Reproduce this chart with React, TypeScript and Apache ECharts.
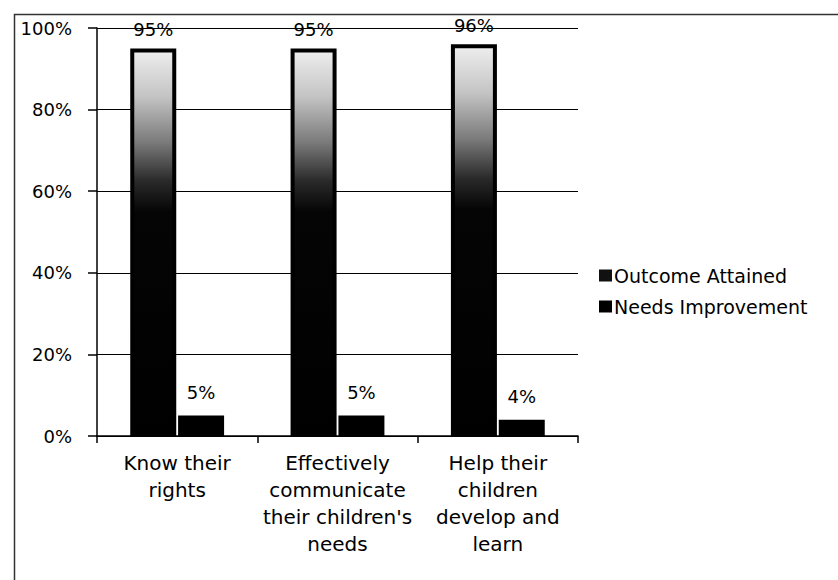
import React, { useEffect, useRef } from "react";
import * as echarts from "echarts";

const categories = [
  "Know their\nrights",
  "Effectively\ncommunicate\ntheir children's\nneeds",
  "Help their\nchildren\ndevelop and\nlearn",
];
const outcomeAttained = [95, 95, 96];
const needsImprovement = [5, 5, 4];
const yTicks = [0, 20, 40, 60, 80, 100];

const FONT = "DejaVu Sans";

export default function App() {
  const ref = useRef<HTMLDivElement>(null);
  useEffect(() => {
    if (!ref.current) return;
    const chart = echarts.init(ref.current, null, { renderer: "svg" });
    const attainedFill = new echarts.graphic.LinearGradient(0, 0, 0, 1, [
      { offset: 0, color: "#eeeeee" },
      { offset: 0.12, color: "#c4c4c4" },
      { offset: 0.24, color: "#7a7a7a" },
      { offset: 0.34, color: "#2a2a2a" },
      { offset: 0.42, color: "#050505" },
      { offset: 1, color: "#000000" },
    ]);
    chart.setOption({
      animation: false,
      backgroundColor: "#ffffff",
      textStyle: { fontFamily: FONT, color: "#000" },
      grid: { left: 97, right: 260, top: 28, bottom: 144, containLabel: false },
      legend: {
        orient: "vertical",
        left: 594,
        top: 261,
        itemWidth: 13,
        itemHeight: 12,
        itemGap: 12,
        icon: "rect",
        textStyle: { fontFamily: FONT, fontSize: 19, color: "#000", padding: [0, 0, 0, -3] },
        data: [
          { name: "Outcome Attained", itemStyle: { color: "#111", borderWidth: 0 } },
          { name: "Needs Improvement", itemStyle: { color: "#000", borderWidth: 0 } },
        ],
      },
      xAxis: {
        type: "category",
        data: categories,
        axisLine: { show: true, lineStyle: { color: "#000", width: 1.5 } },
        axisTick: { show: true, length: 7, lineStyle: { color: "#000", width: 1.5 } },
        axisLabel: {
          interval: 0,
          margin: 13,
          fontFamily: FONT,
          fontSize: 20,
          lineHeight: 27,
          color: "#000",
        },
      },
      yAxis: {
        type: "value",
        min: 0,
        max: 100,
        interval: 20,
        axisLine: { show: true, lineStyle: { color: "#000", width: 1.5 } },
        axisTick: { show: true, length: 9, lineStyle: { color: "#000", width: 1.5 } },
        splitLine: { show: true, lineStyle: { color: "#000", width: 1.2 } },
        axisLabel: {
          margin: 25,
          fontFamily: FONT,
          fontSize: 18,
          color: "#000",
          formatter: (v: number) => (yTicks.includes(v) ? v + "%" : ""),
        },
      },
      series: [
        {
          name: "Outcome Attained",
          type: "bar",
          data: outcomeAttained,
          barWidth: 46,
          barGap: "4%",
          itemStyle: { color: attainedFill, borderColor: "#000", borderWidth: 4 },
          label: {
            show: true,
            position: "top",
            distance: 10,
            formatter: "{c}%",
            fontFamily: FONT,
            fontSize: 18,
            color: "#000",
          },
        },
        {
          name: "Needs Improvement",
          type: "bar",
          data: needsImprovement,
          barWidth: 46,
          itemStyle: { color: "#000" },
          label: {
            show: true,
            position: "top",
            distance: 14,
            formatter: "{c}%",
            fontFamily: FONT,
            fontSize: 18,
            color: "#000",
          },
        },
      ],
      graphic: [
        {
          type: "rect",
          z: 100,
          left: 12,
          top: 12,
          shape: { x: 0, y: 0, width: 900, height: 700 },
          style: { fill: "none", stroke: "#333", lineWidth: 1.5 },
          silent: true,
        },
      ],
    });
    return () => chart.dispose();
  }, []);
  return (
    <div
      ref={ref}
      style={{ position: "fixed", left: 0, top: 0, width: 838, height: 580, background: "#fff" }}
    />
  );
}
